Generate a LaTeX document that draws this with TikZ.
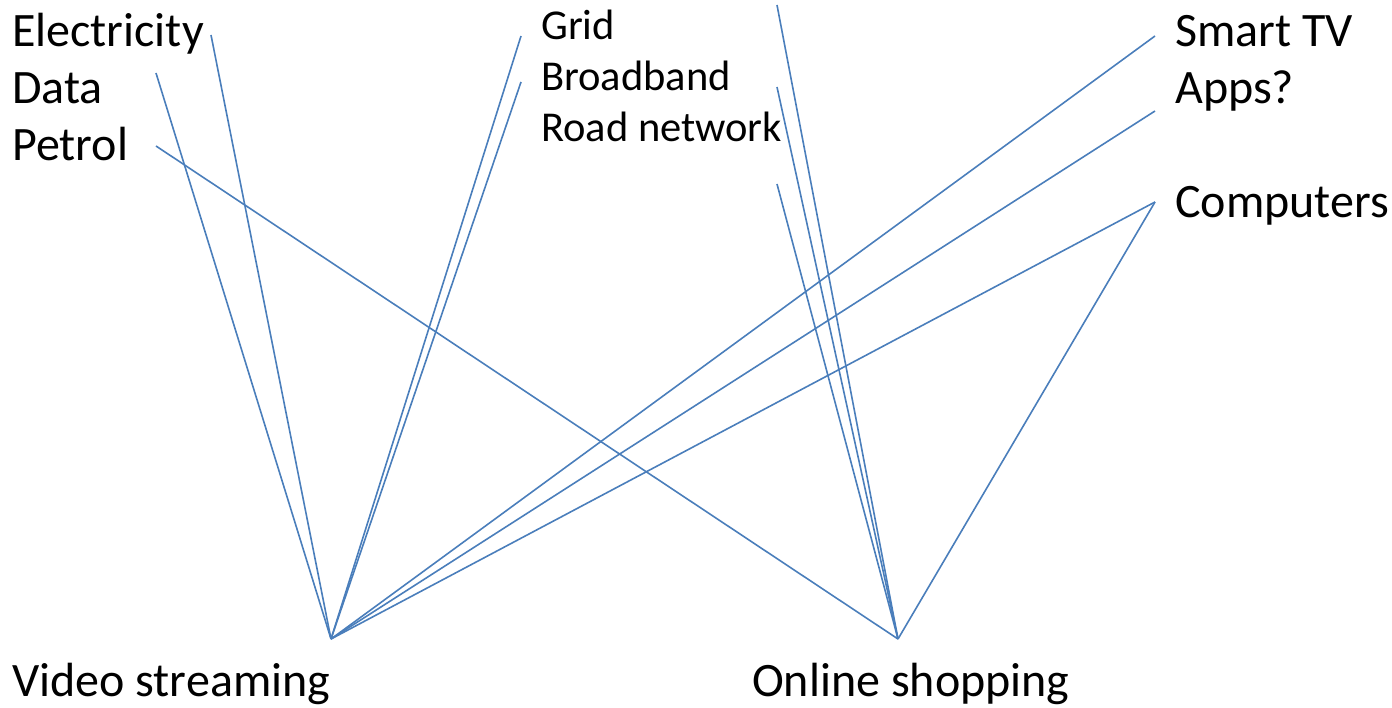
\documentclass[tikz,border=0pt]{standalone}
\usepackage{fontspec}
\setmainfont{Carlito}
\usetikzlibrary{positioning}
\definecolor{linkblue}{HTML}{4A7EBB}

\begin{document}
\begin{tikzpicture}[x=1pt,y=-1pt,
    big/.style={anchor=base west,inner sep=0pt,font=\fontsize{48}{56}\selectfont},
    small/.style={anchor=base west,inner sep=0pt,font=\fontsize{42.5}{50}\selectfont},
    link/.style={linkblue,line width=1.6pt}]
  \useasboundingbox (0,0) rectangle (1392,708);
  % labels
  \node[big] (elec) at (12,47) {Electricity};
  \node[big] (data) at (12,104) {Data};
  \node[big] (petrol) at (12,161) {Petrol};
  \node[small] (grid) at (541,40) {Grid};
  \node[small] (broad) at (541,91) {Broadband};
  \node[small] (road) at (541,142) {Road network};
  \node[big] (tv) at (1175,47) {Smart TV};
  \node[big] (apps) at (1175,104) {Apps?};
  \node[big] (comp) at (1175,218) {Computers};
  \node[big] (video) at (12,696) {Video streaming};
  \node[big] (shop) at (752,696) {Online shopping};
  % line ends
  \coordinate (vapex) at (331,639);
  \coordinate (sapex) at (898,639);
  \coordinate (elecend) at (211,35);
  \coordinate (dataend) at (156,73);
  \coordinate (petrolend) at (156,146);
  \coordinate (gridend) at (521,36);
  \coordinate (broadend) at (521,82);
  \coordinate (topend) at (777,5);
  \coordinate (midend) at (777,87);
  \coordinate (lowend) at (777,184);
  \coordinate (tvend) at (1155,36);
  \coordinate (appsend) at (1155,111);
  \coordinate (compend) at (1155,202);
  % links
  \foreach \e in {elecend,dataend,gridend,broadend,tvend,appsend,compend}
    \draw[link] (vapex)--(\e);
  \foreach \e in {petrolend,topend,midend,lowend,compend}
    \draw[link] (sapex)--(\e);
\end{tikzpicture}
\end{document}
